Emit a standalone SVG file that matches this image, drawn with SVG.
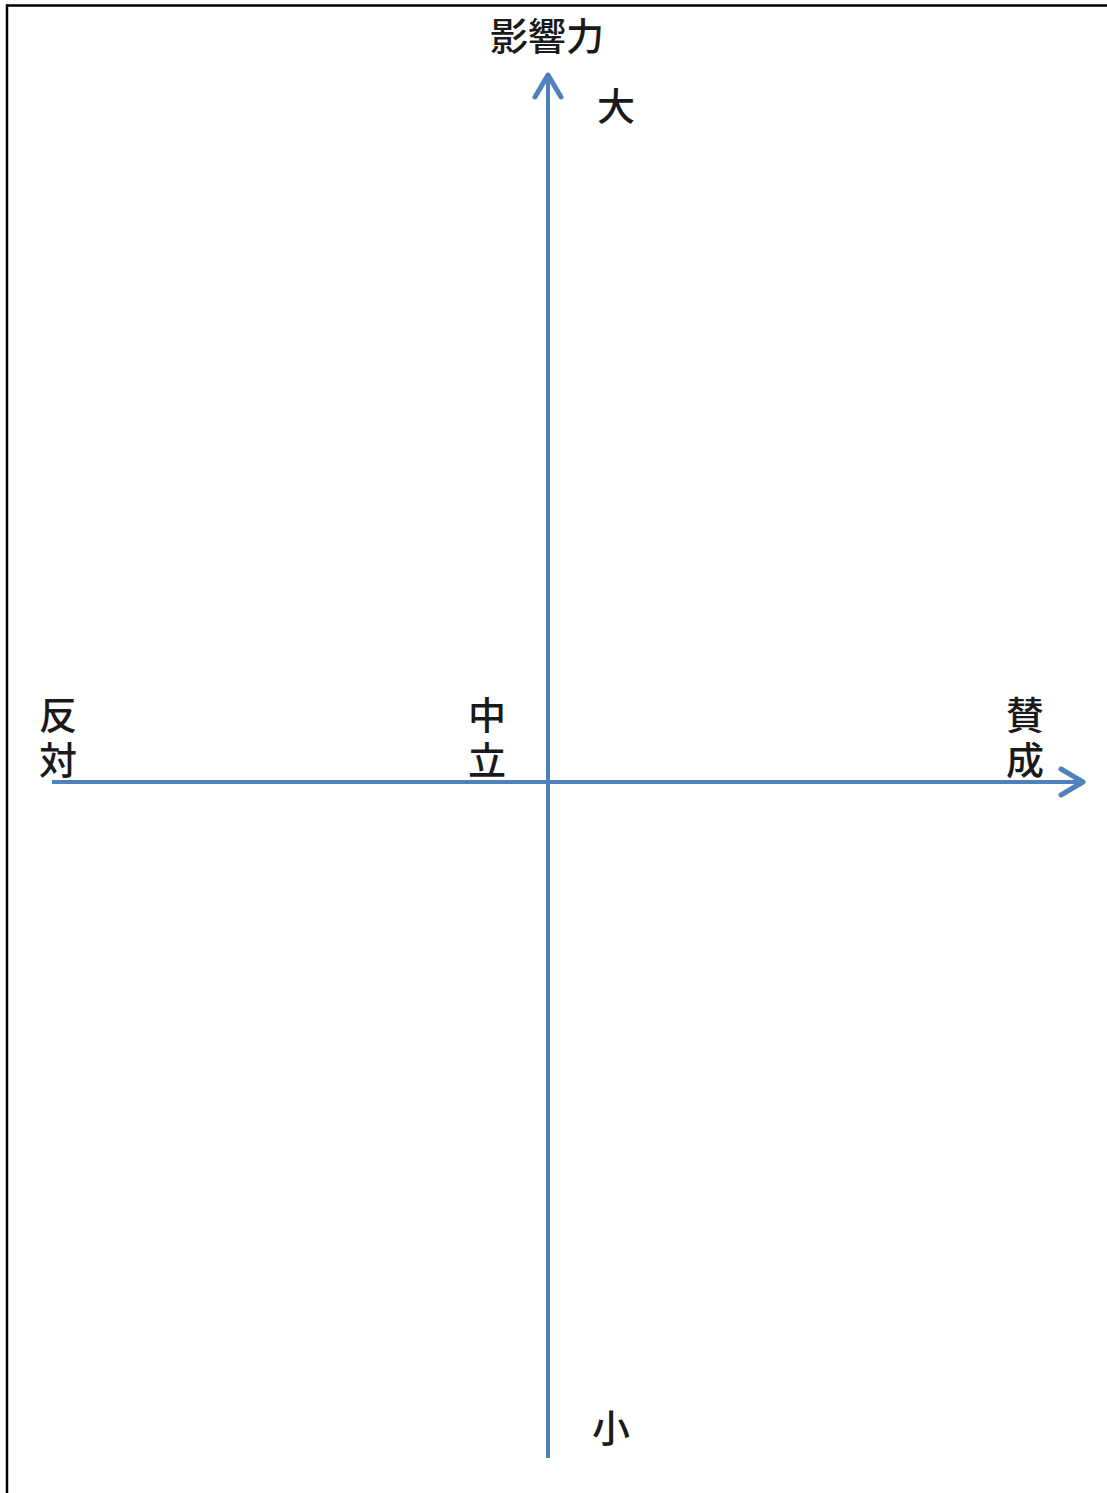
<svg xmlns="http://www.w3.org/2000/svg" width="1107" height="1493" viewBox="0 0 1107 1493">
<style>
.lbl{font-family:"Noto Sans CJK JP","Noto Sans CJK SC",sans-serif;font-size:38px;font-weight:500;fill:#1a1a1a;text-anchor:middle}
.axis{stroke:#4f81bd;stroke-width:4;fill:none}
.head{stroke:#4f81bd;stroke-width:5;fill:none;stroke-linecap:round;stroke-linejoin:round}
</style>
<rect width="1107" height="1493" fill="#ffffff"/>
<g id="frame">
<line x1="7" y1="5.5" x2="1107" y2="5.5" stroke="#000" stroke-width="2.5"/>
<line x1="7" y1="4.3" x2="7" y2="1493" stroke="#000" stroke-width="2.5"/>
</g>
<g id="connectors">
<line class="axis" x1="548" y1="1458" x2="548" y2="76"/>
<polyline class="head" points="535,97 548,75 561,97"/>
<line class="axis" x1="52" y1="782" x2="1083" y2="782"/>
<polyline class="head" points="1061,769 1083,782 1061,795"/>
</g>
<g id="label-influence"><text class="lbl" x="547" y="50">影響力</text></g>
<g id="label-large"><text class="lbl" x="616" y="120">大</text></g>
<g id="label-small"><text class="lbl" x="611" y="1442">小</text></g>
<g id="label-oppose"><text class="lbl" x="58" y="729">反</text><text class="lbl" x="58" y="774">対</text></g>
<g id="label-neutral"><text class="lbl" x="487" y="729">中</text><text class="lbl" x="487" y="774">立</text></g>
<g id="label-agree"><text class="lbl" x="1025" y="729">賛</text><text class="lbl" x="1025" y="774">成</text></g>
</svg>
